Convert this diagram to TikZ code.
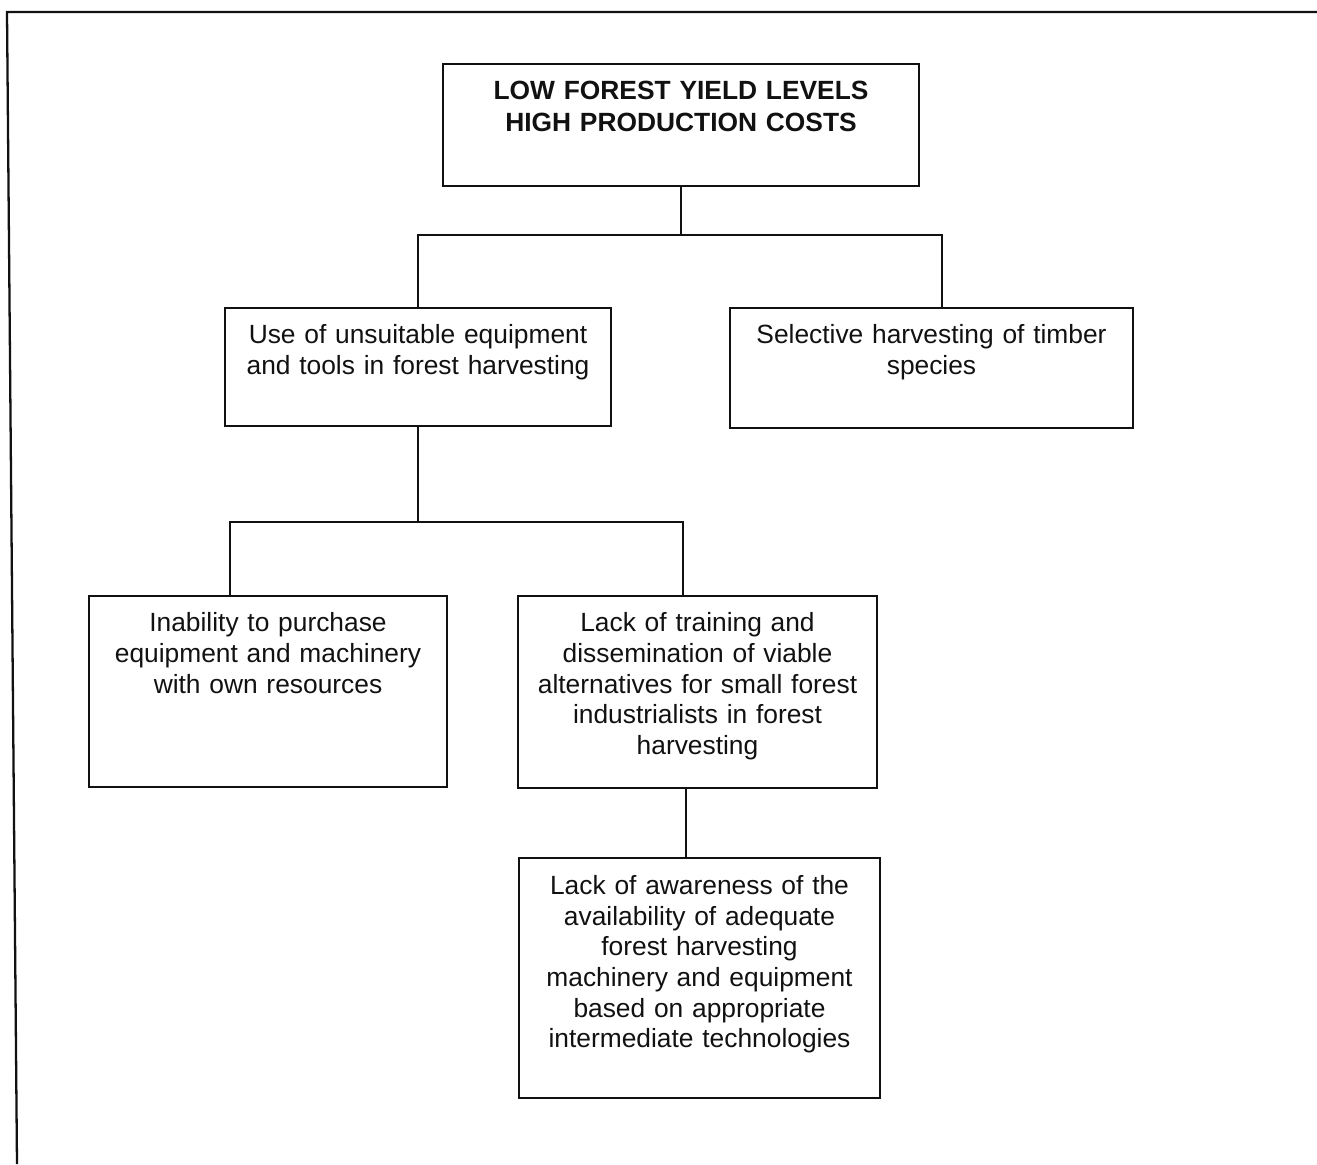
\documentclass[tikz,border=0pt]{standalone}
\usepackage{fontspec}
\setmainfont{Liberation Sans}
\usepackage{tikz}
\usetikzlibrary{positioning,calc}
\definecolor{ink}{HTML}{111111}

\begin{document}
\begin{tikzpicture}[x=0.02cm,y=-0.02cm,
    box/.style={draw=ink,line width=1.3pt,inner sep=0pt},
    txt/.style={anchor=north,align=center,inner sep=0pt,color=ink,font=\fontsize{15}{17.4}\selectfont},
    link/.style={draw=ink,line width=1.3pt}]
  \useasboundingbox (0,0) rectangle (1317,1164);
  \draw[link] (1317,12) -- (7,12) -- (17,1164);
  % boxes
  \node[box,minimum width=9.52cm,minimum height=2.44cm] (yield) at (681,125) {};
  \node[box,minimum width=7.72cm,minimum height=2.36cm] (equip) at (418,367) {};
  \node[box,minimum width=8.06cm,minimum height=2.40cm] (select) at (931.5,368) {};
  \node[box,minimum width=7.16cm,minimum height=3.82cm] (funds) at (268,691.5) {};
  \node[box,minimum width=7.18cm,minimum height=3.84cm] (train) at (697.5,692) {};
  \node[box,minimum width=7.22cm,minimum height=4.80cm] (aware) at (699.5,978) {};
  % texts
  \node[txt,font=\fontsize{15}{18.3}\selectfont\bfseries,text width=9cm] (yieldtxt) at ([yshift=-10pt]yield.north) {LOW FOREST YIELD LEVELS\\HIGH PRODUCTION COSTS};
  \node[txt,text width=7.5cm] (equiptxt) at ([yshift=-10pt]equip.north) {Use of unsuitable equipment\\and tools in forest harvesting};
  \node[txt,text width=7.8cm] (selecttxt) at ([yshift=-10pt]select.north) {Selective harvesting of timber\\species};
  \node[txt,text width=7cm] (fundstxt) at ([yshift=-10pt]funds.north) {Inability to purchase\\equipment and machinery\\with own resources};
  \node[txt,text width=7cm] (traintxt) at ([yshift=-10pt]train.north) {Lack of training and\\dissemination of viable\\alternatives for small forest\\industrialists in forest\\harvesting};
  \node[txt,text width=7cm] (awaretxt) at ([yshift=-10.5pt]aware.north) {Lack of awareness of the\\availability of adequate\\forest harvesting\\machinery and equipment\\based on appropriate\\intermediate technologies};
  % connectors
  \coordinate (split1) at (681,235);
  \coordinate (split2) at (418,522);
  \draw[link] (yield.south) -- (split1);
  \draw[link] (equip.north) |- (split1) -| ([xshift=0.21cm]select.north);
  \draw[link] (equip.south) -- (split2);
  \draw[link] ([xshift=-0.76cm]funds.north) |- (split2) -| ([xshift=-0.29cm]train.north);
  \draw[link] ([xshift=-0.23cm]train.south) -- ([xshift=-0.23cm]train.south |- aware.north);
\end{tikzpicture}
\end{document}
